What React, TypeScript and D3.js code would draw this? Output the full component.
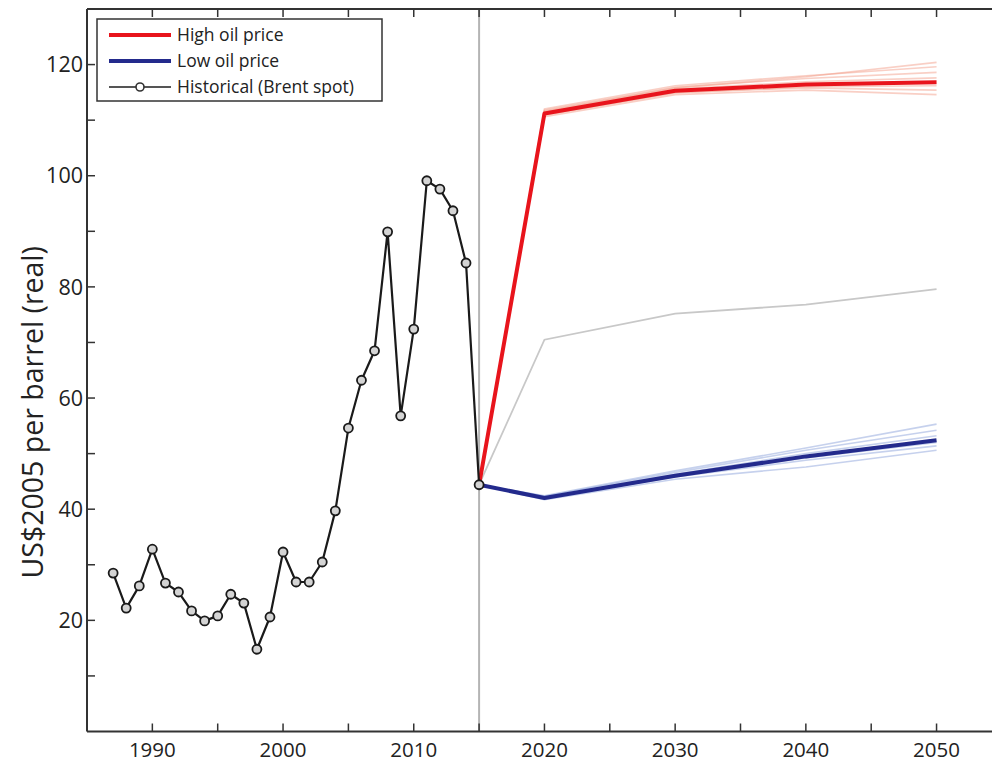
import React from "react";
import * as d3 from "d3";

// Brent spot history, US$2005 per barrel
const histYears = [1987,1988,1989,1990,1991,1992,1993,1994,1995,1996,1997,1998,1999,2000,2001,2002,2003,2004,2005,2006,2007,2008,2009,2010,2011,2012,2013,2014,2015];
const histPrices = [28.5,22.2,26.2,32.8,26.7,25.1,21.7,19.9,20.8,24.7,23.1,14.8,20.6,32.3,26.9,26.9,30.5,39.7,54.6,63.2,68.5,89.9,56.8,72.4,99.1,97.6,93.7,84.3,44.4];

// Scenario years
const scenYears = [2015, 2020, 2030, 2040, 2050];
const highPrice = [44.4, 111.2, 115.3, 116.4, 116.8];
const lowPrice = [44.4, 42.0, 46.0, 49.5, 52.4];
const midPrice = [44.4, 70.5, 75.2, 76.8, 79.6];

// Ensemble members around each scenario
const highMembers = [
  [44.4, 110.6, 114.6, 115.4, 114.6],
  [44.4, 111.0, 115.0, 115.8, 115.4],
  [44.4, 111.5, 115.6, 116.9, 117.6],
  [44.4, 111.8, 115.9, 117.5, 118.6],
  [44.4, 112.0, 116.2, 118.0, 119.6],
  [44.4, 110.9, 114.9, 116.0, 116.2],
  [44.4, 111.6, 115.8, 117.8, 120.4],
];
const lowMembers = [
  [44.4, 41.7, 45.4, 47.6, 50.6],
  [44.4, 41.9, 45.8, 48.8, 51.4],
  [44.4, 42.1, 46.3, 50.0, 53.2],
  [44.4, 42.3, 46.6, 50.6, 54.2],
  [44.4, 42.4, 46.9, 51.0, 55.3],
  [44.4, 42.0, 46.1, 49.2, 52.0],
];

const xTicks = d3.range(1985, 2056, 5);
const xLabels = [1990, 2000, 2010, 2020, 2030, 2040, 2050];
const yTicks = d3.range(0, 131, 10);
const yLabels = [20, 40, 60, 80, 100, 120];

const W = 992;
const H = 761;
const left = 87;
const top = 9;
const bottom = 731.5;

const x = d3.scaleLinear().domain([1985, 2055]).range([left, left + 70 * 13.07]);
const y = d3.scaleLinear().domain([0, 130]).range([bottom, top]);

const font = "'Open Sans', 'Noto Sans', sans-serif";

export default function App() {
  const line = d3
    .line<[number, number]>()
    .x((d) => x(d[0]))
    .y((d) => y(d[1]));
  const pts = (ys: number[], vs: number[]) => ys.map((t, i) => [t, vs[i]] as [number, number]);

  const histPts = pts(histYears, histPrices);

  return (
    <svg
      width={W}
      height={H}
      style={{ position: "absolute", left: 0, top: 0, background: "#fff" }}
      fontFamily={font}
    >
      <rect x={0} y={0} width={W} height={H} fill="#fff" />

      {/* 2015 divider */}
      <line x1={x(2015)} x2={x(2015)} y1={top} y2={bottom} stroke="#b4b4b4" strokeWidth={2} />

      {/* ensembles */}
      {highMembers.map((m, i) => (
        <path key={"h" + i} d={line(pts(scenYears, m)) || ""} fill="none" stroke="#f4a08c" strokeOpacity={0.5} strokeWidth={1.6} />
      ))}
      {lowMembers.map((m, i) => (
        <path key={"l" + i} d={line(pts(scenYears, m)) || ""} fill="none" stroke="#8ea4dc" strokeOpacity={0.5} strokeWidth={1.6} />
      ))}

      {/* middle reference */}
      <path d={line(pts(scenYears, midPrice)) || ""} fill="none" stroke="#c8c8c8" strokeWidth={1.8} />

      {/* scenarios */}
      <path d={line(pts(scenYears, highPrice)) || ""} fill="none" stroke="#e8141c" strokeWidth={4} strokeLinejoin="round" />
      <path d={line(pts(scenYears, lowPrice)) || ""} fill="none" stroke="#232a8c" strokeWidth={4} strokeLinejoin="round" />

      {/* history */}
      <path d={line(histPts) || ""} fill="none" stroke="#1a1a1a" strokeWidth={2.2} strokeLinejoin="round" />
      {histPts.map((p, i) => (
        <circle key={i} cx={x(p[0])} cy={y(p[1])} r={4.5} fill="#d4d4d4" stroke="#1a1a1a" strokeWidth={1.8} />
      ))}

      {/* frame */}
      <line x1={left} x2={W} y1={top} y2={top} stroke="#333" strokeWidth={2} />
      <line x1={left} x2={W} y1={bottom} y2={bottom} stroke="#333" strokeWidth={2} />
      <line x1={left} x2={left} y1={top} y2={bottom} stroke="#333" strokeWidth={2} />

      {/* x ticks */}
      {xTicks.filter((t) => t > 1985).map((t) => (
        <g key={t}>
          <line x1={x(t)} x2={x(t)} y1={bottom} y2={bottom - 8} stroke="#333" strokeWidth={1.5} />
          <line x1={x(t)} x2={x(t)} y1={top} y2={top + 8} stroke="#333" strokeWidth={1.5} />
        </g>
      ))}
      {xLabels.map((t) => (
        <text key={t} x={x(t)} y={bottom + 25} textAnchor="middle" fontSize={20.5} fill="#222">
          {t}
        </text>
      ))}

      {/* y ticks */}
      {yTicks.filter((t) => t > 0).map((t) => (
        <line key={t} x1={left} x2={left + 8} y1={y(t)} y2={y(t)} stroke="#333" strokeWidth={1.5} />
      ))}
      {yLabels.map((t) => (
        <text key={t} x={left - 4} y={y(t)} dy="0.36em" textAnchor="end" fontSize={21.5} fill="#222">
          {t}
        </text>
      ))}

      {/* y title */}
      <text
        transform={`translate(43, ${(top + bottom) / 2 + 42}) rotate(-90)`}
        textAnchor="middle"
        fontSize={28.5}
        fill="#222"
      >
        US$2005 per barrel (real)
      </text>

      {/* legend */}
      <g>
        <rect x={97} y={19} width={285} height={82} fill="#fff" stroke="#333" strokeWidth={1.5} />
        <line x1={109} x2={171} y1={35} y2={35} stroke="#e8141c" strokeWidth={4} />
        <text x={177} y={35} dy="0.35em" fontSize={17.5} fill="#222">High oil price</text>
        <line x1={109} x2={171} y1={61} y2={61} stroke="#232a8c" strokeWidth={4} />
        <text x={177} y={61} dy="0.35em" fontSize={17.5} fill="#222">Low oil price</text>
        <line x1={109} x2={171} y1={87} y2={87} stroke="#555" strokeWidth={2} />
        <circle cx={140} cy={87} r={4} fill="#fff" stroke="#333" strokeWidth={1.6} />
        <text x={177} y={87} dy="0.35em" fontSize={17.5} fill="#222">Historical (Brent spot)</text>
      </g>
    </svg>
  );
}
